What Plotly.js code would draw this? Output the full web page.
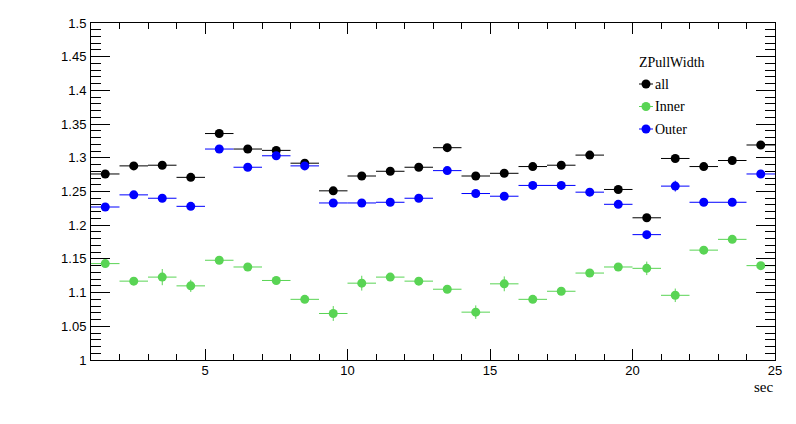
<!DOCTYPE html>
<html>
<head>
<meta charset="utf-8">
<script src="https://cdn.plot.ly/plotly-3.0.1.min.js"></script>
<style>html,body{margin:0;padding:0;background:#fff;}#chart{width:796px;height:424px;}</style>
</head>
<body>
<div id="chart"></div>
<script>
// ---- data ----
var sec = [1.5,2.5,3.5,4.5,5.5,6.5,7.5,8.5,9.5,10.5,11.5,12.5,13.5,14.5,15.5,16.5,17.5,18.5,19.5,20.5,21.5,22.5,23.5,24.5];
var halfWidth = [0.5,0.5,0.5,0.5,0.5,0.5,0.5,0.5,0.5,0.5,0.5,0.5,0.5,0.5,0.5,0.5,0.5,0.5,0.5,0.5,0.5,0.5,0.5,0.5];
var allVals = [1.276,1.288,1.289,1.271,1.336,1.313,1.311,1.292,1.251,1.273,1.280,1.286,1.315,1.273,1.277,1.287,1.289,1.304,1.253,1.211,1.299,1.287,1.296,1.319];
var allErr = [0.003,0.003,0.003,0.003,0.003,0.003,0.003,0.003,0.003,0.003,0.003,0.003,0.003,0.003,0.003,0.003,0.003,0.003,0.003,0.003,0.003,0.003,0.003,0.003];
var innerVals = [1.143,1.117,1.123,1.110,1.148,1.138,1.118,1.090,1.069,1.114,1.123,1.117,1.105,1.071,1.113,1.090,1.102,1.129,1.138,1.136,1.096,1.163,1.179,1.140];
var innerErr = [0.004,0.004,0.012,0.009,0.004,0.005,0.004,0.004,0.011,0.011,0.005,0.004,0.004,0.010,0.011,0.004,0.004,0.004,0.004,0.010,0.010,0.004,0.004,0.004];
var outerVals = [1.227,1.245,1.240,1.228,1.313,1.286,1.303,1.288,1.233,1.233,1.234,1.240,1.281,1.247,1.243,1.259,1.259,1.249,1.231,1.186,1.258,1.234,1.234,1.276];
var outerErr = [0.003,0.003,0.003,0.003,0.003,0.003,0.003,0.003,0.003,0.003,0.003,0.003,0.003,0.003,0.003,0.003,0.003,0.003,0.003,0.003,0.008,0.003,0.003,0.003];
var seriesNames = ["all","Inner","Outer"];
var seriesColors = ["#000000","#59d454","#0000ff"];
var legendTitle = "ZPullWidth";
var xTitle = "sec";

// ---- layout constants ----
var W = 796, H = 424;
var M = {l:91, r:21, t:23, b:64};
var PW = W - M.l - M.r, PH = H - M.t - M.b;
function px2paperX(px){ return (px - M.l)/PW; }
function px2paperY(py){ return (H - M.b - py)/PH; }

function makeTrace(y, err, name, color){
  return {
    x: sec, y: y, name: name, type: 'scatter', mode: 'markers',
    marker: {color: color, size: 9, symbol: 'circle'},
    error_x: {type: 'data', array: halfWidth, visible: true, color: color, thickness: 1, width: 0},
    error_y: {type: 'data', array: err, visible: true, color: color, thickness: 1, width: 0},
    showlegend: false, hoverinfo: 'x+y'
  };
}

var traces = [
  makeTrace(allVals, allErr, seriesNames[0], seriesColors[0]),
  makeTrace(innerVals, innerErr, seriesNames[1], seriesColors[1]),
  makeTrace(outerVals, outerErr, seriesNames[2], seriesColors[2])
];

// ---- custom ROOT-like legend ----
var shapes = [];
var annotations = [];
var legX0 = 637, legTitleY = 62, legItemY0 = 84, legStep = 22.5;
annotations.push({xref:'paper', yref:'paper', x:px2paperX(legX0), y:px2paperY(legTitleY),
  xanchor:'left', yanchor:'middle', text: legendTitle, showarrow:false,
  font:{family:'Liberation Serif, Times New Roman, serif', size:14, color:'#000'}});
for (var i = 0; i < seriesNames.length; i++){
  var cy = legItemY0 + i*legStep;
  var cx = 646;
  shapes.push({type:'line', xref:'paper', yref:'paper',
    x0:px2paperX(cx-7), x1:px2paperX(cx+7), y0:px2paperY(cy), y1:px2paperY(cy),
    line:{color:seriesColors[i], width:1}});
  shapes.push({type:'circle', xref:'paper', yref:'paper',
    x0:px2paperX(cx-4.5), x1:px2paperX(cx+4.5), y0:px2paperY(cy+4.5), y1:px2paperY(cy-4.5),
    fillcolor:seriesColors[i], line:{color:seriesColors[i], width:0}});
  annotations.push({xref:'paper', yref:'paper', x:px2paperX(653), y:px2paperY(cy),
    xanchor:'left', yanchor:'middle', text: seriesNames[i], showarrow:false,
    font:{family:'Liberation Serif, Times New Roman, serif', size:14, color:'#000'}});
}
// x axis title at right end
annotations.push({xref:'paper', yref:'paper', x:1, y:0, xanchor:'right', yanchor:'middle',
  yshift:-27, xshift:0, text:xTitle, showarrow:false,
  font:{family:'Liberation Serif, Times New Roman, serif', size:15, color:'#000'}});

var layout = {
  width: W, height: H,
  margin: M,
  paper_bgcolor: '#ffffff', plot_bgcolor: '#ffffff',
  showlegend: false,
  font: {family: 'Liberation Sans, Arial, sans-serif', size: 13, color: '#000'},
  xaxis: {
    range: [1, 25], tick0: 5, dtick: 5, ticks: 'inside', ticklen: 11, tickwidth: 1, tickcolor: '#000',
    minor: {dtick: 1, ticks: 'inside', ticklen: 6, tickwidth: 1, tickcolor: '#000', showgrid: false},
    showline: true, linecolor: '#000', linewidth: 1, mirror: 'ticks',
    showgrid: false, zeroline: false, tickfont: {size: 13},
    ticklabelstandoff: -2
  },
  yaxis: {
    range: [1, 1.5], tick0: 1, dtick: 0.05, ticks: 'inside', ticklen: 19, tickwidth: 1, tickcolor: '#000',
    minor: {dtick: 0.01, ticks: 'inside', ticklen: 10, tickwidth: 1, tickcolor: '#000', showgrid: false},
    showline: true, linecolor: '#000', linewidth: 1, mirror: 'ticks',
    showgrid: false, zeroline: false, tickfont: {size: 13},
    ticklabelstandoff: 1
  },
  shapes: shapes,
  annotations: annotations
};

Plotly.newPlot('chart', traces, layout, {displayModeBar: false, staticPlot: true});
</script>
</body>
</html>
